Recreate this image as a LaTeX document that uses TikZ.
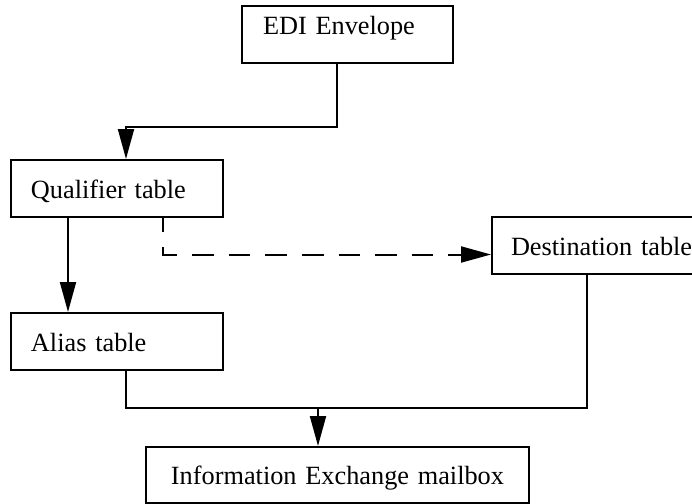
\documentclass[tikz,border=0pt]{standalone}
\usepackage{fontspec}
\setmainfont{Liberation Serif}
\usetikzlibrary{arrows.meta}

\begin{document}
\begin{tikzpicture}[x=0.5pt,y=-0.5pt,
        tbl/.style={draw,line width=1pt,anchor=north west,align=left,
          inner xsep=10pt,inner ysep=0pt,text width=86pt,
          minimum height=28.5pt,text height=10pt,text depth=0.5pt,
          font=\fontsize{13.15pt}{16pt}\selectfont},
        arr/.style={line width=1pt,-{Triangle[length=15pt,width=8pt]}}]
        \clip (0,0) rectangle (692,504);

        \node[tbl,text width=84.5pt,inner xsep=10.5pt,text depth=10.5pt] (edi) at (241,5) {EDI Envelope};
        \node[tbl] (qual) at (10,159) {Qualifier table};
        \node[tbl,text width=92pt,inner xsep=9.5pt] (dest) at (491,216) {Destination table};
        \node[tbl] (alias) at (10,312) {Alias table};
        \node[tbl,align=center,text width=171.5pt,minimum height=28pt] (mbox) at (145,446) {Information Exchange mailbox};

        \coordinate (bend) at (126,127);
        \coordinate (bus) at (318,408);

        \draw[arr] ([xshift=48pt]edi.south west) |- (bend) -- (bend |- qual.north);
        \draw[arr] ([xshift=29pt]qual.south west) -- ([xshift=29pt]alias.north west);
        \draw[arr,dash pattern=on 10.8pt off 7.5pt,dash phase=3.8pt] ([xshift=76.5pt]qual.south west) |- ([yshift=-4.5pt]dest.west);
        \draw[line width=1pt] ([xshift=58pt]alias.south west) |- (bus) -| ([xshift=48pt]dest.south west);
        \draw[arr] (bus) -- (bus |- mbox.north);
\end{tikzpicture}
\end{document}
